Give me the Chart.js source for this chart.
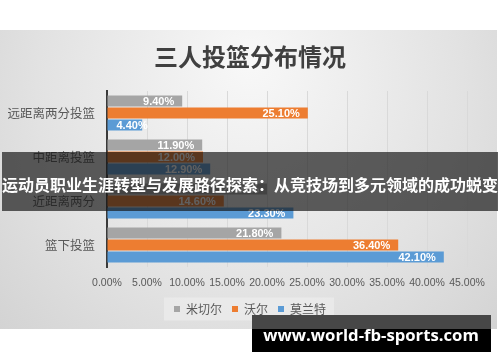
<!DOCTYPE html>
<html>
<head>
<meta charset="utf-8">
<script src="https://cdn.jsdelivr.net/npm/chart.js@4.4.1/dist/chart.umd.min.js"></script>
<style>
    html, body { margin: 0; padding: 0; background: #ffffff; }
    #wrap { width: 500px; height: 362px; position: relative; }
</style>
</head>
<body>
<div id="wrap"><canvas id="shotChart" width="500" height="362"></canvas></div>
<script>
const categories = ['远距离两分投篮', '中距离投篮', '近距离两分', '篮下投篮'];
const mitchell = [9.4, 11.9, 20.0, 21.8];
const wall = [25.1, 12.0, 14.6, 36.4];
const morant = [4.4, 12.9, 23.3, 42.1];
const seriesNames = ['米切尔', '沃尔', '莫兰特'];
const xTicks = [0, 5, 10, 15, 20, 25, 30, 35, 40, 45];

const FONT = '"Noto Sans CJK SC", "Open Sans", sans-serif';
const NUMFONT = '"Liberation Sans", Arial, sans-serif';

// gray gradient card behind the chart, like the pasted screenshot
const backdrop = {
    id: 'backdrop',
    beforeDraw(chart) {
        const ctx = chart.ctx;
        ctx.save();
        const g = ctx.createRadialGradient(250, 60, 10, 250, 120, 380);
        g.addColorStop(0, '#f7f7f7');
        g.addColorStop(0.55, '#e2e2e2');
        g.addColorStop(1, '#cdcdcd');
        ctx.fillStyle = g;
        ctx.fillRect(0, 30, 497, 299);

        // lighter box behind the legend
        const boxes = chart.legend.legendHitBoxes;
        if (boxes && boxes.length) {
            const l = boxes[0].left - 10;
            const r = boxes[boxes.length - 1].left + boxes[boxes.length - 1].width + 8;
            const mid = boxes[0].top + boxes[0].height / 2;
            ctx.fillStyle = 'rgba(240,240,240,0.55)';
            ctx.fillRect(l, mid - 11.5, r - l, 23);
        }
        ctx.restore();
    }
};

// white value labels at the end of each bar
const barLabels = {
    id: 'barLabels',
    afterDatasetsDraw(chart) {
        const ctx = chart.ctx;
        ctx.save();
        ctx.font = 'bold 11px ' + NUMFONT;
        ctx.fillStyle = '#ffffff';
        ctx.textBaseline = 'middle';
        chart.data.datasets.forEach((ds, i) => {
            chart.getDatasetMeta(i).data.forEach((bar, j) => {
                const txt = ds.data[j].toFixed(2) + '%';
                const tw = ctx.measureText(txt).width;
                if (bar.x - bar.base < tw + 16) {
                    ctx.textAlign = 'left';
                    ctx.fillText(txt, bar.base + 9, bar.y + 0.5);
                } else {
                    ctx.textAlign = 'right';
                    ctx.fillText(txt, bar.x - 8, bar.y + 0.5);
                }
            });
        });
        ctx.restore();
    }
};

// banner and watermark pasted over the image
const overlays = {
    id: 'overlays',
    afterDraw(chart) {
        const ctx = chart.ctx;
        ctx.save();
        ctx.fillStyle = 'rgba(20,20,20,0.68)';
        ctx.fillRect(2, 152, 496, 59);
        ctx.fillStyle = '#ffffff';
        ctx.font = 'bold 16px "Noto Sans CJK SC", sans-serif';
        ctx.textAlign = 'center';
        ctx.textBaseline = 'middle';
        ctx.fillText('运动员职业生涯转型与发展路径探索：从竞技场到多元领域的成功蜕变', 250, 185);

        ctx.fillStyle = '#474747';
        ctx.fillRect(252, 315, 239, 14);
        ctx.fillStyle = '#000000';
        ctx.fillRect(252, 329, 239, 23);
        ctx.fillStyle = '#ffffff';
        let size = 20;
        ctx.font = 'bold ' + size + 'px "Open Sans", sans-serif';
        const w = ctx.measureText('www.world-fb-sports.com').width;
        size = size * 216 / w;
        ctx.font = 'bold ' + size.toFixed(1) + 'px "Open Sans", sans-serif';
        ctx.fillText('www.world-fb-sports.com', 371, 336);
        ctx.restore();
    }
};

const colors = ['#a5a5a5', '#ed7d31', '#5b9bd5'];

new Chart(document.getElementById('shotChart'), {
    type: 'bar',
    data: {
        labels: categories,
        datasets: [mitchell, wall, morant].map((d, i) => ({
            label: seriesNames[i],
            data: d,
            backgroundColor: colors[i],
            categoryPercentage: 0.82,
            barPercentage: 0.93
        }))
    },
    options: {
        indexAxis: 'y',
        responsive: false,
        animation: false,
        layout: { padding: { top: 30, left: 8, right: 8, bottom: 37 } },
        plugins: {
            title: {
                display: true,
                text: '三人投篮分布情况',
                color: '#404040',
                font: { family: FONT, size: 24, weight: 'bold' },
                padding: { top: 12.6, bottom: 19.6 }
            },
            legend: {
                position: 'bottom',
                labels: {
                    color: '#595959',
                    font: { family: FONT, size: 12 },
                    boxWidth: 6,
                    boxHeight: 6,
                    padding: 10
                }
            },
            tooltip: { enabled: false }
        },
        scales: {
            x: {
                min: 0,
                max: 45,
                afterBuildTicks(axis) {
                    axis.ticks = xTicks.map(v => ({ value: v }));
                },
                afterFit(axis) {
                    axis.height = 26;
                    axis.paddingLeft = 0;
                    axis.paddingRight = 33;
                },
                ticks: {
                    color: '#595959',
                    font: { family: NUMFONT, size: 10.5 },
                    padding: 10,
                    autoSkip: false,
                    maxRotation: 0,
                    minRotation: 0,
                    callback: v => v.toFixed(2) + '%'
                },
                grid: { color: '#d9d9d9', drawTicks: false },
                border: { display: false }
            },
            y: {
                afterFit(axis) { axis.width = 99; },
                ticks: {
                    color: '#595959',
                    font: { family: FONT, size: 12.5 },
                    padding: 12
                },
                grid: { display: false, drawTicks: false },
                border: { display: true, color: '#3a3a3a', width: 2 }
            }
        }
    },
    plugins: [backdrop, barLabels, overlays]
});
</script>
</body>
</html>
